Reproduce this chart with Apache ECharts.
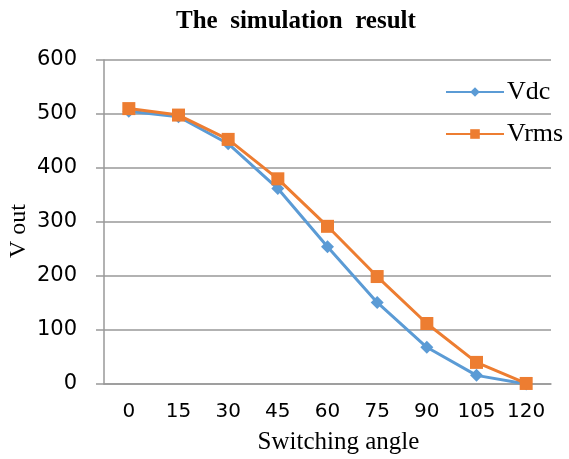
<!DOCTYPE html>
<html>
<head>
<meta charset="utf-8">
<script src="https://cdn.jsdelivr.net/npm/echarts@6/dist/echarts.min.js"></script>
<style>
  html, body { margin: 0; padding: 0; background: #fff; }
  #chart { width: 569px; height: 459px; }
</style>
</head>
<body>
<div id="chart"></div>
<script>
// Switching angle (degrees) and measured output voltages
const angles = ['0', '15', '30', '45', '60', '75', '90', '105', '120'];
const vdc = [505, 495, 445, 362, 254, 151, 68, 16, 0];
const vrms = [510, 498, 453, 380, 292, 199, 112, 40, 1];
const yTicks = { min: 0, max: 600, interval: 100 };

const serif = '"Liberation Serif", "DejaVu Serif", serif';
const sans = '"DejaVu Sans", sans-serif';

const chart = echarts.init(document.getElementById('chart'));
chart.setOption({
  animation: false,
  backgroundColor: '#fff',
  title: {
    text: 'The  simulation  result',
    left: 171,
    top: 4,
    textStyle: { fontFamily: serif, fontWeight: 'bold', fontSize: 25, color: '#000' }
  },
  legend: {
    left: 440,
    top: 74,
    orient: 'vertical',
    itemGap: 16,
    itemWidth: 58,
    itemHeight: 12,
    textStyle: { fontFamily: serif, fontSize: 26, color: '#000', padding: [0, 0, 0, -2] },
    data: ['Vdc', 'Vrms']
  },
  grid: { left: 104, right: 18, top: 60, bottom: 75, containLabel: false, outerBoundsMode: 'none' },
  xAxis: {
    type: 'category',
    data: angles,
    boundaryGap: true,
    name: 'Switching angle',
    nameLocation: 'middle',
    nameGap: 46,
    nameTextStyle: { fontFamily: serif, fontSize: 25, color: '#000', padding: [0, 0, 0, 22] },
    axisLine: { lineStyle: { color: '#999', width: 1.5 } },
    axisTick: { show: false },
    axisLabel: { interval: 0, hideOverlap: false, fontFamily: sans, fontSize: 20, color: '#000', margin: 18 }
  },
  yAxis: {
    type: 'value',
    min: yTicks.min,
    max: yTicks.max,
    interval: yTicks.interval,
    name: 'V out',
    nameLocation: 'middle',
    nameGap: 73,
    nameMoveOverlap: false,
    nameTextStyle: { fontFamily: serif, fontSize: 24, color: '#000', padding: [0, 18, 0, 0] },
    axisLine: { show: true, lineStyle: { color: '#999', width: 1.5 } },
    axisTick: { show: true, length: 8, lineStyle: { color: '#999', width: 1.5 } },
    axisLabel: { fontFamily: sans, fontSize: 21, color: '#000', margin: 27 },
    splitLine: { lineStyle: { color: '#999', width: 1.5 } }
  },
  series: [
    {
      name: 'Vdc',
      type: 'line',
      data: vdc,
      symbol: 'diamond',
      symbolSize: 13,
      lineStyle: { color: '#5B9BD5', width: 3 },
      itemStyle: { color: '#5B9BD5' }
    },
    {
      name: 'Vrms',
      type: 'line',
      data: vrms,
      symbol: 'rect',
      symbolSize: 13,
      lineStyle: { color: '#ED7D31', width: 3 },
      itemStyle: { color: '#ED7D31' }
    }
  ]
});
</script>
</body>
</html>
